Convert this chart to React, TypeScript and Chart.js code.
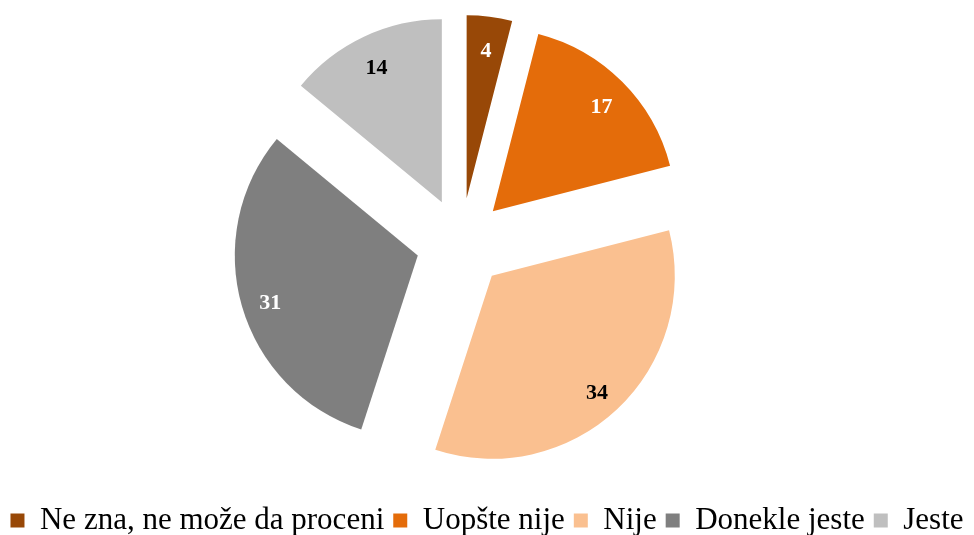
import { useEffect, useRef } from "react";
import { Chart, registerables } from "chart.js";

Chart.register(...registerables);

const categories = ["Ne zna, ne može da proceni", "Uopšte nije", "Nije", "Donekle jeste", "Jeste"];
const values = [4, 17, 34, 31, 14];
const colors = ["#984807", "#E46C0A", "#FAC090", "#7F7F7F", "#BFBFBF"];
const labelColors = ["#FFFFFF", "#FFFFFF", "#000000", "#FFFFFF", "#000000"];

const EXPLODE = 45;
const SHIFT_X = -26;
const SHIFT_Y = -5;
const LABEL_R = 0.84;
const LABEL_DY = 5;

const explodePlugin = {
  id: "explode",
  beforeDatasetDraw(chart: any, args: any) {
    const ctx = chart.ctx;
    args.meta.data.forEach((arc: any) => {
      const mid = (arc.startAngle + arc.endAngle) / 2;
      ctx.save();
      ctx.translate(SHIFT_X + Math.cos(mid) * EXPLODE, SHIFT_Y + Math.sin(mid) * EXPLODE);
      arc.draw(ctx, chart.chartArea);
      ctx.restore();
    });
    return false;
  },
  afterDatasetsDraw(chart: any) {
    const ctx = chart.ctx;
    const meta = chart.getDatasetMeta(0);
    ctx.save();
    ctx.font = "bold 22px 'Liberation Serif'";
    ctx.textAlign = "center";
    ctx.textBaseline = "middle";
    meta.data.forEach((arc: any, i: number) => {
      const mid = (arc.startAngle + arc.endAngle) / 2;
      const r = EXPLODE + arc.outerRadius * LABEL_R;
      ctx.fillStyle = labelColors[i];
      ctx.fillText(
        String(values[i]),
        arc.x + SHIFT_X + Math.cos(mid) * r,
        arc.y + SHIFT_Y + LABEL_DY + Math.sin(mid) * r
      );
    });
    ctx.restore();
  },
};

export default function App() {
  const ref = useRef<HTMLCanvasElement>(null);
  useEffect(() => {
    if (!ref.current) return;
    const chart = new Chart(ref.current, {
      type: "pie",
      data: {
        labels: categories,
        datasets: [
          {
            data: values,
            backgroundColor: colors,
            borderWidth: 0,
          },
        ],
      },
      options: {
        responsive: false,
        animation: false,
        radius: 183,
        layout: { padding: { top: 0, bottom: -11, left: 0, right: 0 } },
        plugins: {
          tooltip: { enabled: false },
          legend: {
            position: "bottom",
            labels: {
              boxWidth: 14,
              boxHeight: 14,
              padding: 9,
              color: "#000000",
              font: { family: "'Liberation Serif'", size: 31 },
            },
          },
        },
      } as any,
      plugins: [explodePlugin],
    });
    return () => chart.destroy();
  }, []);
  return (
    <div style={{ position: "absolute", left: 0, top: 0, width: 974, height: 535 }}>
      <canvas ref={ref} width={974} height={535} style={{ display: "block" }} />
    </div>
  );
}
